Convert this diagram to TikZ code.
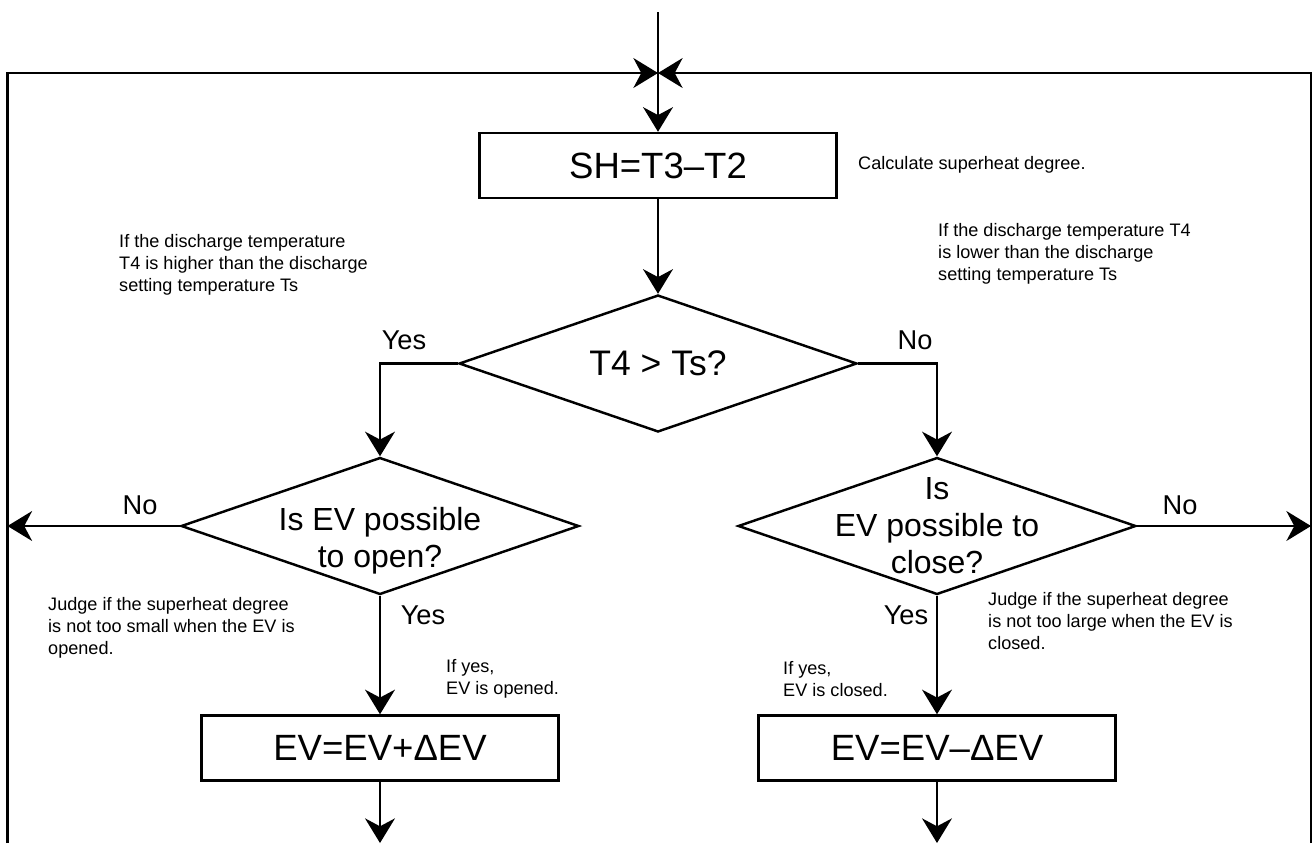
\documentclass[tikz,border=0pt]{standalone}
\usepackage{fontspec}
\setmainfont{Liberation Sans}
\usetikzlibrary{arrows.meta, shapes.geometric}

\begin{document}
\begin{tikzpicture}[x=0.02cm, y=-0.02cm, line width=1.4pt,
    >={Stealth[length=14pt, width=17pt, inset=4.5pt]},
    procbox/.style={draw, minimum width=7.15cm, minimum height=1.3cm, inner sep=0pt, font=\fontsize{20.8}{25}\selectfont},
    decision/.style={draw, diamond, minimum width=7.96cm, minimum height=2.74cm, inner sep=0pt},
    dtext/.style={font=\fontsize{18.2}{21}\selectfont, align=center, inner sep=0pt},
    yesno/.style={font=\fontsize{15.5}{18}\selectfont, inner sep=0pt},
    note/.style={font=\fontsize{10.3}{12.5}\selectfont, align=left, anchor=west, inner sep=0pt}]
  \useasboundingbox (0,0) rectangle (1313,843);

  % loop back frame and entry
  \coordinate (entry) at (658,12);
  \coordinate (join) at (658,73);
  \coordinate (lbot) at (7.5,843);
  \coordinate (rbot) at (1311,843);
  \draw[->] (lbot) |- (join);
  \draw[->] (rbot) |- (join);

  % main steps
  \node[procbox] (sh) at (658,165.5) {SH=T3–T2};
  \node[decision, label={[font=\fontsize{20.2}{24}\selectfont]center:T4 > Ts?}] (check) at (658,363.5) {};
  \node[decision, label={[dtext, yshift=-0.3cm]center:Is EV possible\\to open?}] (openq) at (380,526) {};
  \node[decision, label={[dtext]center:Is\\EV possible to\\close?}] (closeq) at (937,526) {};
  \node[procbox] (incbox) at (380,748) {EV=EV+ΔEV};
  \node[procbox] (decbox) at (937,748) {EV=EV–ΔEV};
  \coordinate (lout) at (7.5,526);
  \coordinate (rout) at (1311,526);
  \coordinate (incout) at (380,843);
  \coordinate (decout) at (937,843);

  \draw[->] (entry) -- (sh);
  \draw[->] (sh) -- (check);
  \draw[->] (check.west) -| (openq.north);
  \draw[->] (check.east) -| (closeq.north);
  \draw[->] (openq.west) -- (lout);
  \draw[->] (closeq.east) -- (rout);
  \draw[->] (openq.south) -- (incbox.north);
  \draw[->] (closeq.south) -- (decbox.north);
  \draw[->] (incbox.south) -- (incout);
  \draw[->] (decbox.south) -- (decout);

  % branch labels
  \node[yesno] (yes1) at (404,340) {Yes};
  \node[yesno] (no1) at (915,340) {No};
  \node[yesno] (no2) at (140,505) {No};
  \node[yesno] (no3) at (1180,505) {No};
  \node[yesno] (yes2) at (423,615) {Yes};
  \node[yesno] (yes3) at (906,615) {Yes};

  % notes
  \node[note] (calc) at (857,165) {Calculate superheat degree.};
  \node[note] (hot) at (118,265) {If the discharge temperature\\T4 is higher than the discharge\\setting temperature Ts};
  \node[note] (cold) at (937,254) {If the discharge temperature T4\\is lower than the discharge\\setting temperature Ts};
  \node[note] (small) at (47,628) {Judge if the superheat degree\\is not too small when the EV is\\opened.};
  \node[note] (large) at (987,621) {Judge if the superheat degree\\is not too large when the EV is\\closed.};
  \node[note] (opened) at (445,679) {If yes,\\EV is opened.};
  \node[note] (closed) at (782,679) {If yes,\\EV is closed.};
\end{tikzpicture}
\end{document}
